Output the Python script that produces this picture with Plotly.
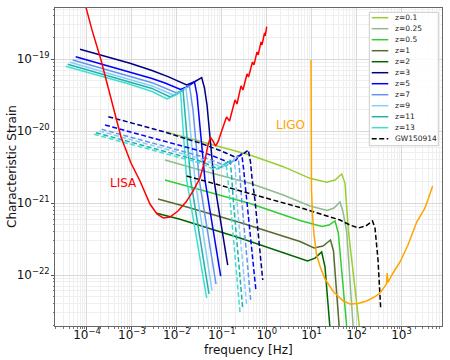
import plotly.graph_objects as go

# ---- heavy binaries, solid lines (z = 3 ... 13) ----
f_hi_z3 = [6.98e-5, 9.06e-4, 2.80e-3, 6.35e-3, 1.656e-2, 2.535e-2, 3.57e-2, 4.12e-2, 4.69e-2, 6.71e-2, 1.355e-1]
h_hi_z3 = [1.377e-19, 8.79e-20, 6.98e-20, 5.73e-20, 4.40e-20, 4.91e-20, 5.55e-20, 3.99e-20, 2.31e-20, 2.09e-21, 1.377e-22]
f_hi_z5 = [5.60e-5, 9.06e-4, 2.80e-3, 5.45e-3, 1.205e-2, 1.77e-2, 2.47e-2, 2.81e-2, 3.03e-2, 4.23e-2, 9.46e-2]
h_hi_z5 = [1.086e-19, 6.68e-20, 5.41e-20, 4.68e-20, 3.80e-20, 4.19e-20, 4.83e-20, 3.18e-20, 1.97e-20, 2.09e-21, 9.68e-23]
f_hi_z7 = [4.81e-5, 9.06e-4, 2.80e-3, 9.82e-3, 1.371e-2, 1.91e-2, 2.12e-2, 2.29e-2, 3.16e-2, 7.43e-2]
h_hi_z7 = [9.78e-20, 5.86e-20, 4.73e-20, 3.40e-20, 3.74e-20, 4.26e-20, 2.90e-20, 1.97e-20, 2.09e-21, 7.50e-23]
f_hi_z9 = [4.19e-5, 9.06e-4, 2.80e-3, 8.41e-3, 1.175e-2, 1.596e-2, 1.726e-2, 1.815e-2, 2.535e-2, 6.05e-2]
h_hi_z9 = [9.08e-20, 5.31e-20, 4.26e-20, 3.18e-20, 3.51e-20, 3.99e-20, 2.72e-20, 1.97e-20, 2.09e-21, 6.05e-23]
f_hi_z11 = [3.72e-5, 9.06e-4, 2.80e-3, 7.03e-3, 1.007e-2, 1.371e-2, 1.442e-2, 1.479e-2, 2.03e-2, 5.19e-2]
h_hi_z11 = [8.52e-20, 4.88e-20, 3.93e-20, 2.99e-20, 3.29e-20, 3.74e-20, 2.55e-20, 1.97e-20, 2.09e-21, 5.45e-23]
f_hi_z13 = [3.36e-5, 9.06e-4, 2.80e-3, 6.04e-3, 8.63e-3, 1.205e-2, 1.256e-2, 1.283e-2, 1.656e-2, 4.61e-2]
h_hi_z13 = [8.00e-20, 4.49e-20, 3.56e-20, 2.81e-20, 3.09e-20, 3.51e-20, 2.55e-20, 1.97e-20, 2.09e-21, 4.79e-23]

# ---- intermediate binaries, dashed lines (z = 3 ... 13) ----
f_mid_z3 = [2.98e-4, 4.22e-3, 3.27e-2, 9.12e-2, 1.968e-1, 2.82e-1, 3.89e-1, 4.36e-1, 4.70e-1, 5.48e-1, 8.15e-1]
h_mid_z3 = [1.592e-20, 1.016e-20, 6.85e-21, 5.40e-21, 4.38e-21, 4.67e-21, 5.48e-21, 3.73e-21, 2.23e-21, 1.104e-21, 8.51e-23]
f_mid_z5 = [2.52e-4, 4.22e-3, 3.27e-2, 8.24e-2, 1.524e-1, 2.07e-1, 2.77e-1, 3.04e-1, 3.58e-1, 5.77e-1]
h_mid_z5 = [1.219e-20, 7.55e-21, 5.31e-21, 4.24e-21, 3.61e-21, 3.97e-21, 4.90e-21, 3.08e-21, 1.104e-21, 5.98e-23]
f_mid_z7 = [2.12e-4, 4.22e-3, 3.27e-2, 7.06e-2, 1.242e-1, 1.687e-1, 2.30e-1, 2.48e-1, 2.77e-1, 4.40e-1]
h_mid_z7 = [1.062e-20, 6.43e-21, 4.52e-21, 3.79e-21, 3.28e-21, 3.73e-21, 4.52e-21, 2.88e-21, 1.104e-21, 4.49e-23]
f_mid_z9 = [1.88e-4, 4.22e-3, 3.27e-2, 6.37e-2, 1.012e-1, 1.374e-1, 1.871e-1, 2.02e-1, 2.15e-1, 3.58e-1]
h_mid_z9 = [1.007e-20, 5.93e-21, 4.17e-21, 3.56e-21, 3.13e-21, 3.61e-21, 4.24e-21, 2.71e-21, 1.104e-21, 3.83e-23]
f_mid_z11 = [1.585e-4, 4.22e-3, 3.27e-2, 5.75e-2, 8.24e-2, 1.119e-1, 1.524e-1, 1.644e-1, 1.803e-1, 2.92e-1]
h_mid_z11 = [9.53e-21, 5.48e-21, 3.85e-21, 3.33e-21, 2.98e-21, 3.39e-21, 3.97e-21, 2.54e-21, 1.104e-21, 3.44e-23]
f_mid_z13 = [1.432e-4, 4.22e-3, 3.27e-2, 5.19e-2, 7.06e-2, 9.12e-2, 1.242e-1, 1.340e-1, 1.524e-1, 2.54e-1]
h_mid_z13 = [9.06e-21, 5.14e-21, 3.61e-21, 3.18e-21, 2.88e-21, 3.18e-21, 3.67e-21, 2.38e-21, 1.104e-21, 3.05e-23]

# ---- stellar-mass binaries, solid lines (z = 0.1 ... 2) ----
f_lo_z01 = [5.73e-3, 3.27e-2, 4.25e-1, 2.34, 9.19, 21.6, 33.1, 46.7, 55.2, 65.5, 115, 119]
h_lo_z01 = [9.75e-21, 7.31e-21, 4.67e-21, 3.21e-21, 2.21e-21, 1.945e-21, 2.09e-21, 2.54e-21, 1.884e-21, 4.23e-22, 2.13e-23, 1.61e-23]
f_lo_z025 = [5.45e-3, 3.27e-2, 4.25e-1, 2.34, 9.19, 22.0, 31.4, 42.8, 49.9, 60.3, 85.3]
h_lo_z025 = [3.97e-21, 2.88e-21, 1.884e-21, 1.297e-21, 9.12e-22, 7.89e-22, 8.55e-22, 1.035e-21, 7.52e-22, 3.96e-22, 1.61e-23]
f_lo_z05 = [5.45e-3, 4.25e-1, 1.528, 5.51, 17.0, 24.3, 33.1, 39.2, 61.8]
h_lo_z05 = [2.09e-21, 9.86e-22, 7.52e-22, 5.73e-22, 4.73e-22, 4.95e-22, 5.64e-22, 3.84e-22, 1.61e-23]
f_lo_z1 = [3.80e-3, 1.175e-2, 2.54e-1, 5.51, 11.3, 17.9, 26.3, 30.6, 41.9]
h_lo_z1 = [1.140e-21, 9.42e-22, 5.37e-22, 2.92e-22, 2.38e-22, 2.53e-22, 3.07e-22, 2.16e-22, 1.61e-23]
f_lo_z2 = [3.56e-3, 1.175e-2, 2.54e-1, 5.51, 8.09, 11.9, 16.7, 19.8, 26.0]
h_lo_z2 = [7.21e-22, 5.96e-22, 3.27e-22, 1.70e-22, 1.567e-22, 1.72e-22, 2.09e-22, 1.303e-22, 1.61e-23]

# ---- GW150914 ----
f_gw = [1.656e-2, 4.25e-1, 5.51, 42.8, 71.3, 110, 162, 226, 257, 300, 344]
h_gw = [2.38e-21, 1.368e-21, 8.69e-22, 5.82e-22, 4.95e-22, 4.51e-22, 4.81e-22, 5.64e-22, 4.51e-22, 1.618e-22, 3.44e-23]

# ---- detector sensitivity curves ----
f_lisa = [8.58e-5, 1.291e-4, 2.05e-4, 3.42e-4, 5.71e-4, 9.53e-4, 1.513e-3, 2.52e-3, 3.61e-3, 4.99e-3,
          7.03e-3, 1.059e-2, 1.596e-2, 2.29e-2, 3.27e-2, 4.23e-2, 4.93e-2, 5.61e-2, 6.37e-2, 7.24e-2,
          8.24e-2, 1.012e-1, 1.274e-1, 1.486e-1, 1.968e-1, 2.18e-1, 2.68e-1, 2.96e-1, 3.64e-1, 3.93e-1,
          4.82e-1, 5.21e-1, 6.08e-1, 6.46e-1, 7.47e-1, 7.85e-1, 8.93e-1, 9.25e-1, 1.0]
h_lisa = [6.68e-19, 2.56e-19, 9.78e-20, 2.72e-20, 8.30e-21, 3.61e-21, 2.03e-21, 9.70e-22, 7.05e-22, 6.21e-22,
          6.41e-22, 7.76e-22, 1.035e-21, 1.472e-21, 2.23e-21, 3.97e-21, 6.43e-21, 8.17e-21, 7.31e-21, 6.22e-21,
          7.08e-21, 1.040e-20, 1.574e-20, 1.387e-20, 2.72e-20, 2.39e-20, 4.26e-20, 3.74e-20, 6.25e-20, 5.68e-20,
          9.16e-20, 8.34e-20, 1.265e-19, 1.148e-19, 1.742e-19, 1.581e-19, 2.32e-19, 2.11e-19, 2.84e-19]
f_ligo = [9.68, 9.77, 9.93, 10.44, 11.3, 12.9, 15.3, 19.8, 30.3, 50.6, 71.3, 108, 168, 257, 332, 463, 480, 498,
          647, 925, 1393, 2178, 3334, 4943]
h_ligo = [9.78e-20, 1.432e-20, 1.52e-21, 6.82e-22, 3.60e-22, 1.897e-22, 1.334e-22, 8.79e-23, 5.90e-23, 4.35e-23,
          3.95e-23, 4.02e-23, 4.35e-23, 5.02e-23, 5.62e-23, 7.50e-23, 1.067e-22, 7.87e-23, 1.067e-22, 1.517e-22,
          2.61e-22, 5.46e-22, 8.55e-22, 1.730e-21]

legend_labels = ["z=0.1", "z=0.25", "z=0.5", "z=1", "z=2", "z=3", "z=5", "z=7", "z=9", "z=11", "z=13", "GW150914"]
legend_colors = ["#9acd32", "#8fbc8f", "#32cd32", "#556b2f", "#006400", "#000080", "#0000ff",
                 "#6495ed", "#87cefa", "#20b2aa", "#40e0d0", "#000000"]

x_tickvals = [1e-4, 1e-3, 1e-2, 1e-1, 1e0, 1e1, 1e2, 1e3]
x_ticktext = ["10<sup>−4</sup>", "10<sup>−3</sup>", "10<sup>−2</sup>", "10<sup>−1</sup>",
              "10<sup>0</sup>", "10<sup>1</sup>", "10<sup>2</sup>", "10<sup>3</sup>"]
y_tickvals = [1e-22, 1e-21, 1e-20, 1e-19]
y_ticktext = ["10<sup>−22</sup>", "10<sup>−21</sup>", "10<sup>−20</sup>", "10<sup>−19</sup>"]

FONT = "DejaVu Sans"
DASH = "5px,2.5px"

fig = go.Figure()

def add_line(f, h, color, dash="solid", width=1.5):
    fig.add_trace(go.Scatter(x=f, y=h, mode="lines", line=dict(color=color, width=width, dash=dash),
                             hoverinfo="skip", showlegend=False))

lo = [(f_lo_z01, h_lo_z01), (f_lo_z025, h_lo_z025), (f_lo_z05, h_lo_z05), (f_lo_z1, h_lo_z1), (f_lo_z2, h_lo_z2)]
for (f, h), c in zip(lo, legend_colors[:5]):
    add_line(f, h, c)

hi = [(f_hi_z3, h_hi_z3), (f_hi_z5, h_hi_z5), (f_hi_z7, h_hi_z7), (f_hi_z9, h_hi_z9),
      (f_hi_z11, h_hi_z11), (f_hi_z13, h_hi_z13)]
for (f, h), c in zip(hi, legend_colors[5:11]):
    add_line(f, h, c)

mid = [(f_mid_z3, h_mid_z3), (f_mid_z5, h_mid_z5), (f_mid_z7, h_mid_z7), (f_mid_z9, h_mid_z9),
       (f_mid_z11, h_mid_z11), (f_mid_z13, h_mid_z13)]
for (f, h), c in zip(mid, legend_colors[5:11]):
    add_line(f, h, c, dash=DASH)

add_line(f_gw, h_gw, "#000000", dash=DASH)
add_line(f_lisa, h_lisa, "#ff0000")
add_line(f_ligo, h_ligo, "#ffa500")

# plot area in pixels: x 55..442, y 8..326
L, R, T, B = 55, 442, 8, 326
def px(x):
    return (x - L) / (R - L)
def py(y):
    return (B - y) / (B - T)

shapes = [dict(type="rect", xref="paper", yref="paper", x0=px(369.3), x1=px(438.3), y0=py(145.7), y1=py(12.3),
               fillcolor="rgba(255,255,255,0.85)", line=dict(color="#cccccc", width=1), layer="above")]
annotations = []
for i, (lab, col) in enumerate(zip(legend_labels, legend_colors)):
    yy = py(17.7 + 11.0 * i)
    shapes.append(dict(type="line", xref="paper", yref="paper", x0=px(371.7), x1=px(388.3), y0=yy, y1=yy,
                       line=dict(color=col, width=1.5, dash=DASH if lab == "GW150914" else "solid"),
                       layer="above"))
    annotations.append(dict(xref="paper", yref="paper", x=px(392.7), y=yy, text=lab, showarrow=False,
                            xanchor="left", yanchor="middle", font=dict(family=FONT, size=7.5, color="#222")))

annotations += [
    dict(x=-3.177, y=-20.72, xref="x", yref="y", text="LISA", showarrow=False,
         xanchor="center", yanchor="middle", font=dict(family=FONT, size=12, color="#ff0000")),
    dict(x=0.540, y=-19.907, xref="x", yref="y", text="LIGO", showarrow=False,
         xanchor="center", yanchor="middle", font=dict(family=FONT, size=12, color="#ffa500")),
    dict(xref="paper", yref="paper", x=px(12), y=py(167), text="Characteristic Strain", textangle=-90,
         xanchor="center", yanchor="middle", showarrow=False, font=dict(family=FONT, size=12, color="#111")),
    dict(xref="paper", yref="paper", x=px(248), y=py(349.5), text="frequency [Hz]",
         xanchor="center", yanchor="middle", showarrow=False, font=dict(family=FONT, size=12, color="#111")),
]

minor_vals = [m * 10.0 ** e for e in range(-24, 5) for m in range(2, 10)]

axis_common = dict(type="log", showline=True, linecolor="#666", linewidth=1, mirror=True,
                   ticks="outside", ticklen=3, tickcolor="#555", tickmode="array",
                   showgrid=True, gridcolor="#d9d9d9", gridwidth=0.8, zeroline=False,
                   tickfont=dict(family=FONT, size=12, color="#111"),
                   minor=dict(tickmode="array", tickvals=minor_vals, showgrid=True, gridcolor="#efefef",
                              gridwidth=0.6, ticks="outside", ticklen=1.5, tickcolor="#777"))

fig.update_layout(
    width=450, height=360,
    margin=dict(l=L, r=450 - R, t=T, b=360 - B),
    paper_bgcolor="white", plot_bgcolor="white",
    showlegend=False,
    xaxis=dict(axis_common, range=[-4.712, 3.901], tickvals=x_tickvals, ticktext=x_ticktext,
               ticklabelstandoff=-5),
    yaxis=dict(axis_common, range=[-22.709, -18.287], tickvals=y_tickvals, ticktext=y_ticktext,
               ticklabelstandoff=-1),
    shapes=shapes,
    annotations=annotations,
)

fig.write_html("out.html", config={"displayModeBar": False},
               post_script="document.body.style.margin='0';")
